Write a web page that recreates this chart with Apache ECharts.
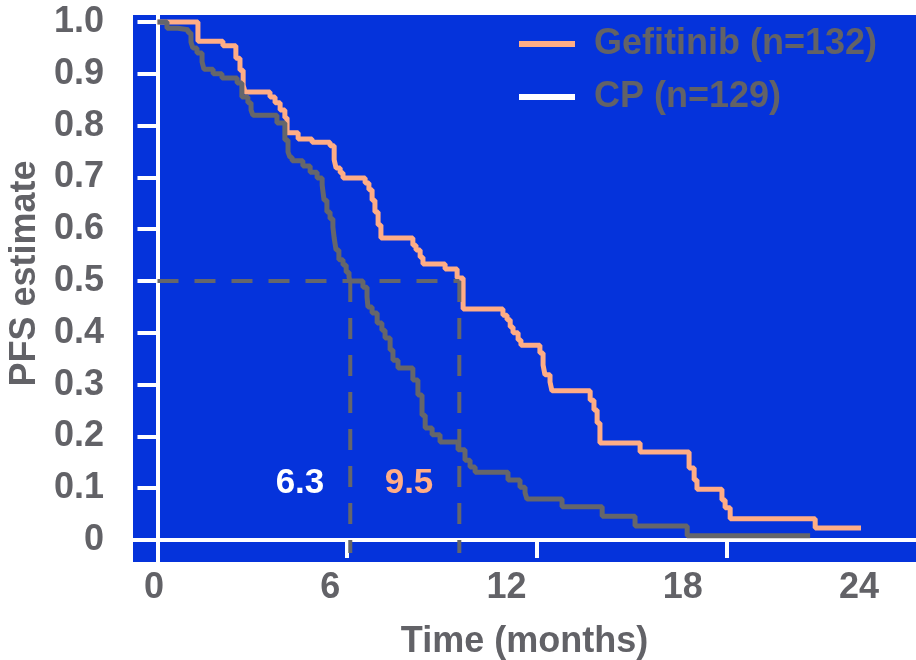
<!DOCTYPE html>
<html>
<head>
<meta charset="utf-8">
<script src="https://cdn.jsdelivr.net/npm/echarts@6/dist/echarts.min.js"></script>
<style>
html,body{margin:0;padding:0;background:#fff;}
#chart{width:916px;height:660px;}
</style>
</head>
<body>
<div id="chart"></div>
<script>
// ---- Data (months, PFS estimate) ----
const gefitinibT = [0, 1.28, 2.07, 2.48, 2.61, 2.71, 2.77, 3.56, 3.72, 3.88, 4.03, 4.10, 4.45, 4.89, 5.46, 5.59, 5.65, 5.78, 5.87, 6.57, 6.69, 6.79, 6.88, 6.98, 7.07, 8.08, 8.18, 8.31, 8.40, 9.10, 9.48, 9.67, 10.93, 11.06, 11.16, 11.25, 11.41, 11.50, 12.10, 12.20, 12.26, 12.42, 12.48, 13.69, 13.81, 13.91, 14.00, 15.27, 16.82, 16.98, 17.07, 17.86, 17.96, 18.12, 20.81, 22.26];
const gefitinibS = [1.0, 0.963, 0.954, 0.930, 0.907, 0.878, 0.865, 0.855, 0.844, 0.830, 0.815, 0.786, 0.774, 0.768, 0.761, 0.734, 0.718, 0.709, 0.699, 0.689, 0.676, 0.656, 0.633, 0.608, 0.583, 0.569, 0.560, 0.546, 0.533, 0.523, 0.506, 0.446, 0.434, 0.425, 0.411, 0.400, 0.386, 0.376, 0.361, 0.338, 0.319, 0.305, 0.288, 0.270, 0.251, 0.226, 0.187, 0.170, 0.139, 0.116, 0.098, 0.077, 0.062, 0.041, 0.023, 0.023];
const cpT = [0, 0.30, 0.65, 0.97, 1.06, 1.12, 1.25, 1.41, 1.47, 1.76, 2.04, 2.52, 2.67, 2.86, 2.96, 3.02, 3.78, 4.03, 4.13, 4.19, 4.26, 4.60, 4.83, 5.05, 5.21, 5.27, 5.36, 5.46, 5.55, 5.59, 5.65, 5.74, 5.87, 5.97, 6.06, 6.09, 6.50, 6.63, 6.66, 6.79, 6.95, 7.10, 7.20, 7.36, 7.45, 7.61, 8.08, 8.24, 8.37, 8.47, 8.69, 8.94, 9.51, 9.73, 9.89, 10.05, 11.09, 11.47, 11.63, 11.69, 12.80, 14.07, 15.11, 16.76, 20.65];
const cpS = [1.0, 0.988, 0.985, 0.979, 0.961, 0.950, 0.940, 0.923, 0.909, 0.900, 0.892, 0.882, 0.855, 0.844, 0.830, 0.820, 0.805, 0.772, 0.749, 0.739, 0.732, 0.722, 0.710, 0.699, 0.685, 0.656, 0.633, 0.620, 0.604, 0.583, 0.560, 0.541, 0.531, 0.517, 0.508, 0.500, 0.488, 0.469, 0.450, 0.438, 0.419, 0.405, 0.390, 0.367, 0.347, 0.332, 0.309, 0.280, 0.241, 0.216, 0.203, 0.189, 0.174, 0.154, 0.141, 0.131, 0.116, 0.102, 0.091, 0.079, 0.064, 0.046, 0.027, 0.008, 0.008];

const seriesNames = ['Gefitinib (n=132)', 'CP (n=129)'];
const medianPos = [6.1, 9.55];          // where the dashed median lines sit
const medianText = ['6.3', '9.5'];
const medianLevel = 0.5;
const medianLabelY = 0.11;

const yTickValues = [0, 0.1, 0.2, 0.3, 0.4, 0.5, 0.6, 0.7, 0.8, 0.9, 1.0];
const yTickLabels = ['0', '0.1', '0.2', '0.3', '0.4', '0.5', '0.6', '0.7', '0.8', '0.9', '1.0'];
const xTickValues = [0, 6, 12, 18];
const xLabelValues = [0, 6, 12, 18, 24];
const xLabelTexts = ['0', '6', '12', '18', '24'];

// ---- Styles ----
const BLUE = '#0533DB';
const SALMON = '#FFAD86';
const GRAY = '#65666B';
const TEXT = '#626267';
const FONT = '"Liberation Sans", Arial, sans-serif';

const zip = (a, b) => a.map((v, i) => [v, b[i]]);

const chart = echarts.init(document.getElementById('chart'), null, {renderer: 'canvas'});

const dashed = {color: GRAY, width: 4, type: [21, 16]};
const medianSeries = [
  {type: 'line', name: '_h', data: [[0, medianLevel], [medianPos[1], medianLevel]], showSymbol: false, silent: true, lineStyle: dashed, z: 5, clip: false},
  {type: 'line', name: '_v1', data: [[medianPos[0], medianLevel], [medianPos[0], -0.025]], showSymbol: false, silent: true, lineStyle: dashed, z: 5, clip: false},
  {type: 'line', name: '_v2', data: [[medianPos[1], medianLevel], [medianPos[1], -0.025]], showSymbol: false, silent: true, lineStyle: dashed, z: 5, clip: false}
];
const labelColors = ['#ffffff', SALMON];

chart.setOption({
  animation: false,
  backgroundColor: '#ffffff',
  grid: {left: 133, right: 0, top: 15, bottom: 98, show: true, backgroundColor: BLUE, borderWidth: 0, containLabel: false, outerBoundsMode: 'none'},
  legend: {
    orient: 'vertical', left: 514, top: 21, icon: 'rect', itemWidth: 56, itemHeight: 6, itemGap: 17,
    textStyle: {color: TEXT, fontSize: 36, fontWeight: 'bold', fontFamily: FONT, lineHeight: 36, padding: [0, 0, 0, 14]},
    data: [
      {name: seriesNames[0], itemStyle: {color: SALMON}},
      {name: seriesNames[1], itemStyle: {color: '#ffffff'}}
    ]
  },
  xAxis: [
    {
      type: 'value', min: -0.775, max: 24.0,
      axisLine: {show: true, onZero: true, onZeroAxisIndex: 0, lineStyle: {color: '#fff', width: 4}},
      axisTick: {show: true, inside: false, length: 18, customValues: xTickValues, lineStyle: {color: '#fff', width: 4}},
      axisLabel: {show: false},
      splitLine: {show: false}
    },
    {
      type: 'value', position: 'bottom', min: -0.715, max: 25.94,
      name: 'Time (months)', nameLocation: 'middle', nameGap: 62,
      nameTextStyle: {color: TEXT, fontSize: 36, fontWeight: 'bold', fontFamily: FONT},
      axisLine: {show: false, onZero: false},
      axisTick: {show: false},
      axisLabel: {
        show: true, customValues: xLabelValues, margin: 8,
        color: TEXT, fontSize: 36, fontWeight: 'bold', fontFamily: FONT,
        formatter: v => xLabelTexts[xLabelValues.indexOf(v)]
      },
      splitLine: {show: false}
    }
  ],
  yAxis: {
    type: 'value', min: -0.0425, max: 1.0135,
    name: 'PFS estimate', nameLocation: 'middle', nameGap: 88, nameRotate: 90,
    nameTextStyle: {color: TEXT, fontSize: 36, fontWeight: 'bold', fontFamily: FONT, padding: [0, 0, 0, 30]},
    axisLine: {show: true, onZero: true, onZeroAxisIndex: 0, lineStyle: {color: '#fff', width: 4}},
    axisTick: {show: true, inside: false, length: 20, customValues: yTickValues, lineStyle: {color: '#fff', width: 4}},
    axisLabel: {
      show: true, customValues: yTickValues, margin: 29,
      color: TEXT, fontSize: 36, fontWeight: 'bold', fontFamily: FONT,
      formatter: v => yTickLabels[yTickValues.indexOf(v)]
    },
    splitLine: {show: false}
  },
  series: [
    {
      type: 'line', name: seriesNames[0], xAxisIndex: 0, step: 'end', showSymbol: false,
      data: zip(gefitinibT, gefitinibS), lineStyle: {color: SALMON, width: 5}, itemStyle: {color: SALMON}, z: 3, clip: false
    },
    {
      type: 'line', name: seriesNames[1], xAxisIndex: 0, step: 'end', showSymbol: false,
      data: zip(cpT, cpS), lineStyle: {color: GRAY, width: 5}, itemStyle: {color: GRAY}, z: 4, clip: false
    },
    ...medianSeries,
    {
      type: 'custom', name: '_lbl', xAxisIndex: 0, silent: true, z: 6, clip: false,
      data: medianPos.map((m, i) => [m, medianLabelY, i]),
      renderItem: function (params, api) {
        const p = api.coord([api.value(0), api.value(1)]);
        const i = api.value(2);
        return {
          type: 'text',
          x: p[0] - 26, y: p[1],
          style: {
            text: medianText[i], fill: labelColors[i],
            font: 'bold 35px ' + FONT, align: 'right', verticalAlign: 'middle'
          }
        };
      }
    }
  ]
});
</script>
</body>
</html>
